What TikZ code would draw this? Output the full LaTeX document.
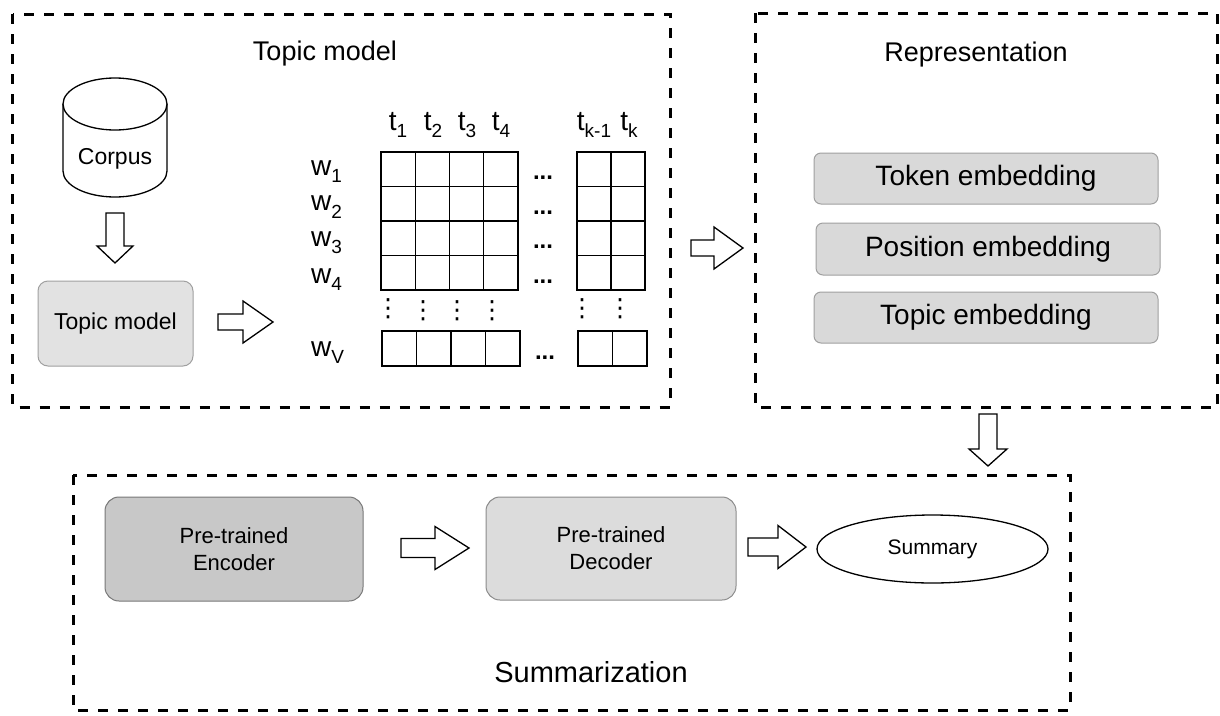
\documentclass[tikz,border=0pt]{standalone}
\usepackage{fontspec}
\setmainfont{Liberation Sans}
\newfontfamily\dejavu{DejaVu Sans}
\usetikzlibrary{shapes.geometric}
\newcommand{\mysub}[1]{\raisebox{-0.27em}{\fontsize{19}{19}\selectfont #1}}
\definecolor{tmfill}{RGB}{226,226,226}
\definecolor{tmdraw}{RGB}{160,160,160}
\definecolor{embfill}{RGB}{217,217,217}
\definecolor{embdraw}{RGB}{160,160,160}
\definecolor{encfill}{RGB}{200,200,200}
\definecolor{encdraw}{RGB}{120,120,120}
\definecolor{decfill}{RGB}{220,220,220}
\definecolor{decdraw}{RGB}{140,140,140}
\tikzset{
  frame/.style={draw, line width=3pt, dash pattern=on 10pt off 10pt},
  cell/.style={draw, line width=1.4pt},
  blockarrow/.style={draw, fill=white, line width=1.3pt, line join=miter},
  small/.style={font=\fontsize{23}{27}\selectfont},
  title/.style={font=\fontsize{27}{32}\selectfont, anchor=base},
  big/.style={font=\fontsize{28}{32}\selectfont},
  wl/.style={font=\fontsize{28}{32}\selectfont, anchor=base west, inner sep=0},
  tl/.style={font=\fontsize{28}{32}\selectfont, anchor=base, inner sep=0},
  hdots/.style={font=\bfseries\fontsize{24}{28}\selectfont, anchor=base, inner sep=0},
  vdots/.style={font=\dejavu\fontsize{25}{28}\selectfont, inner sep=0},
  tmbox/.style={draw=tmdraw, fill=tmfill, line width=1pt, rounded corners=10pt, small},
  embbox/.style={draw=embdraw, fill=embfill, line width=1pt, rounded corners=7pt, big, minimum width=344, minimum height=51},
  encbox/.style={draw=encdraw, fill=encfill, line width=1pt, rounded corners=14pt, font=\fontsize{22}{27}\selectfont, align=center},
  decbox/.style={draw=decdraw, fill=decfill, line width=1pt, rounded corners=14pt, font=\fontsize{22}{27}\selectfont, align=center},
  pics/rarrow/.style n args={4}{code={
    \draw[blockarrow] (0,-#2) -- ({#1-#3},-#2) -- ({#1-#3},-#4) -- (#1,0) -- ({#1-#3},#4) -- ({#1-#3},#2) -- (0,#2) -- cycle;
  }},
  pics/darrow/.style n args={4}{code={
    \draw[blockarrow] (-#2,0) -- (-#2,{#1-#3}) -- (-#4,{#1-#3}) -- (0,#1) -- (#4,{#1-#3}) -- (#2,{#1-#3}) -- (#2,0) -- cycle;
  }}
}
\begin{document}
\begin{tikzpicture}[x=1pt,y=-1pt]
\useasboundingbox (0,0) rectangle (1220,715);
\fill[white] (0,0) rectangle (1220,715);

% frames
\draw[frame] (12.5,14) rectangle (670,407);
\draw[frame] (755,13) rectangle (1217.5,407);
\draw[frame] (73,475) rectangle (1070,710);

% titles
\node[title] (ttm) at (325,60) {Topic model};
\node[title] (trep) at (976,61) {Representation};
\node[title, font=\fontsize{29}{34}\selectfont] (tsum) at (591,682) {Summarization};

% corpus cylinder
\draw[line width=1.3pt, fill=white] (63,104) -- (63,171) arc[start angle=180, end angle=0, x radius=52, y radius=26] -- (167,104);
\draw[line width=1.3pt, fill=white] (115,104) ellipse[x radius=52, y radius=26];
\node[small] (corpus) at (115,159) {Corpus};

% topic model box
\node[tmbox, minimum width=155, minimum height=85] (tm) at (115.5,323.5) {Topic model};

% arrows in topic model frame
\coordinate (a0) at (115,213);
\pic at (a0) {darrow={50}{9}{17}{18}};
\coordinate (a1) at (218,322);
\pic at (a1) {rarrow={55}{8}{30}{21}};

% matrix
\foreach \i in {0,...,3} \foreach \j in {0,...,3}
  \draw[cell] ({381+34.25*\i},{152+34.5*\j}) rectangle ++(34.25,34.5);
\foreach \i in {0,1} \foreach \j in {0,...,3}
  \draw[cell] ({577+34*\i},{152+34.5*\j}) rectangle ++(34,34.5);
\foreach \i in {0,...,3}
  \draw[cell] ({382+34.5*\i},331) rectangle ++(34.5,35);
\foreach \i in {0,1}
  \draw[cell] ({578+34.5*\i},331) rectangle ++(34.5,35);

% row labels
\node[wl] (w1) at (311,175) {w\mysub{1}};
\node[wl] (w2) at (311,210.5) {w\mysub{2}};
\node[wl] (w3) at (311,246) {w\mysub{3}};
\node[wl] (w4) at (311,283) {w\mysub{4}};
\node[wl] (wv) at (311,356) {w\mysub{V}};

% column labels
\node[tl] (t1) at (398,130) {t\mysub{1}};
\node[tl] (t2) at (433,130) {t\mysub{2}};
\node[tl] (t3) at (467,130) {t\mysub{3}};
\node[tl] (t4) at (501,130) {t\mysub{4}};
\node[tl] (tk1) at (594,130) {t\mysub{k-1}};
\node[tl] (tk) at (629,130) {t\mysub{k}};

% horizontal dots
\node[hdots] (d1) at (543,179) {...};
\node[hdots] (d2) at (543,214) {...};
\node[hdots] (d3) at (543,248) {...};
\node[hdots] (d4) at (543,283) {...};
\node[hdots] (d5) at (545,359) {...};

% vertical dots
\node[vdots] (v1) at (388,309) {⋮};
\node[vdots] (v2) at (423,311) {⋮};
\node[vdots] (v3) at (457,311) {⋮};
\node[vdots] (v4) at (492,311) {⋮};
\node[vdots] (v5) at (582,309) {⋮};
\node[vdots] (v6) at (620,309) {⋮};

% arrow to representation
\coordinate (a2) at (691,248);
\pic at (a2) {rarrow={52}{8}{29}{21}};

% embeddings
\node[embbox] (tok) at (986,178.5) {Token embedding};
\node[embbox, minimum height=52] (pos) at (988,249) {Position embedding};
\node[embbox] (top) at (986,317.5) {Topic embedding};

% arrow down to summarization
\coordinate (a3) at (988,414);
\pic at (a3) {darrow={52}{9}{17}{19}};

% summarization
\node[encbox, minimum width=258, minimum height=104] (enc) at (234,549) {Pre-trained\\Encoder};
\node[decbox, minimum width=250, minimum height=103] (dec) at (611,548.5) {Pre-trained\\Decoder};
\node[draw, ellipse, line width=1.3pt, minimum width=231, minimum height=68, inner sep=0, font=\fontsize{21}{25}\selectfont] (sum) at (932.5,549) {Summary};

\coordinate (a4) at (401,548);
\pic at (a4) {rarrow={68}{9.5}{34}{21.5}};
\coordinate (a5) at (748,547);
\pic at (a5) {rarrow={58}{9}{28}{21.5}};
\end{tikzpicture}
\end{document}
